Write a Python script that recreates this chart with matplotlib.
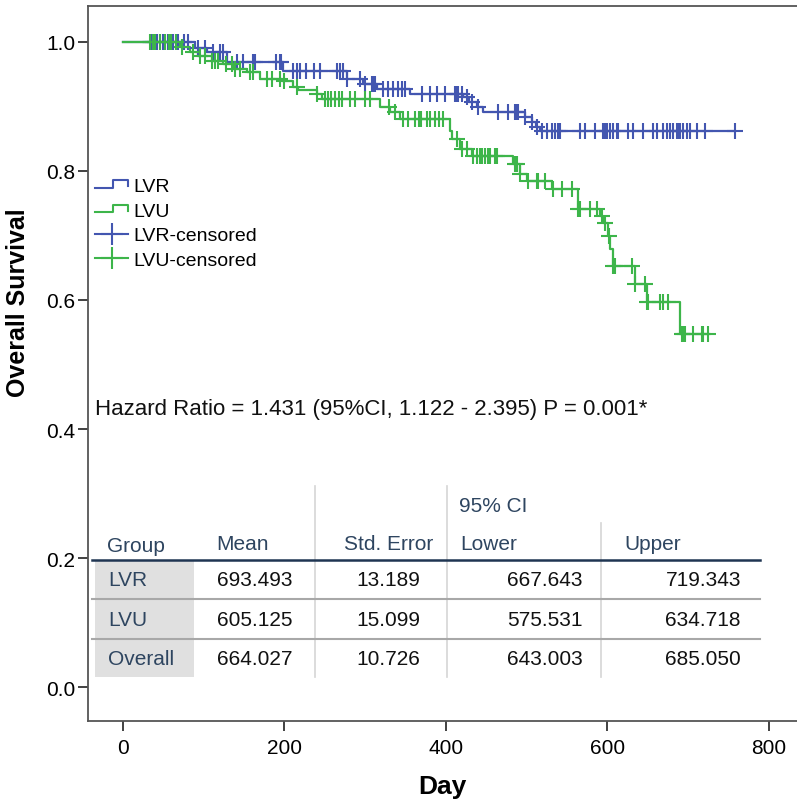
import numpy as np
import matplotlib
matplotlib.use("Agg")
import matplotlib.pyplot as plt
from matplotlib.lines import Line2D
from matplotlib.legend_handler import HandlerBase

plt.rcParams['font.family'] = ['Liberation Sans', 'DejaVu Sans']

# --- Kaplan-Meier steps (day, survival after the drop) ---
lvr_event_days = [89, 104, 129, 198, 277, 297, 314, 355, 421, 428, 439, 446, 498, 506, 512, 516]
lvr_event_surv = [0.991, 0.984, 0.969, 0.955, 0.943, 0.935, 0.927, 0.919, 0.914, 0.907, 0.899,
                  0.891, 0.884, 0.876, 0.868, 0.862]
lvr_last_day = 758
lvr_censor_days = [35, 42, 50, 56, 62, 68, 75, 81, 93, 101, 112, 120, 124, 141, 149, 161, 164,
                   190, 194, 196, 211, 215, 219, 227, 236, 244, 265, 269, 273, 277, 293, 300,
                   308, 310, 312, 322, 328, 335, 341, 345, 349, 370, 380, 389, 399, 411, 414,
                   415, 420, 426, 432, 440, 464, 477, 485, 488, 489, 498, 507, 513, 519, 525,
                   531, 535, 539, 541, 566, 572, 584, 594, 597, 599, 603, 607, 612, 613, 625,
                   632, 644, 656, 661, 669, 674, 677, 681, 686, 687, 690, 694, 698, 702, 711,
                   721, 758]

lvu_event_days = [71, 83, 93, 110, 124, 136, 153, 170, 197, 211, 217, 240, 246, 318, 331, 343,
                  405, 408, 417, 432, 483, 492, 500, 531, 563, 591, 594, 601, 603, 607, 634,
                  649, 690]
lvu_event_surv = [0.992, 0.984, 0.979, 0.971, 0.966, 0.958, 0.953, 0.943, 0.940, 0.930, 0.925,
                  0.919, 0.912, 0.899, 0.891, 0.880, 0.862, 0.850, 0.834, 0.823, 0.811, 0.795,
                  0.784, 0.772, 0.741, 0.730, 0.719, 0.699, 0.679, 0.653, 0.625, 0.597, 0.547]
lvu_last_day = 724
lvu_censor_days = [33, 37, 40, 46, 52, 57, 60, 66, 73, 87, 95, 102, 110, 114, 118, 128, 135,
                   139, 145, 157, 161, 178, 184, 194, 199, 215, 240, 250, 254, 258, 263, 267,
                   271, 281, 287, 300, 306, 329, 337, 347, 353, 362, 366, 369, 376, 380, 386,
                   391, 396, 414, 420, 426, 433, 438, 442, 445, 448, 452, 455, 461, 463, 485,
                   488, 492, 502, 513, 514, 523, 533, 544, 556, 564, 566, 578, 587, 593, 597,
                   602, 607, 609, 630, 634, 646, 649, 650, 665, 669, 675, 692, 694, 696, 706,
                   717, 718, 724]

# --- table ---
tbl_groups = ['LVR', 'LVU', 'Overall']
tbl_mean = ['693.493', '605.125', '664.027']
tbl_se = ['13.189', '15.099', '10.726']
tbl_lower = ['667.643', '575.531', '643.003']
tbl_upper = ['719.343', '634.718', '685.050']
hazard_text = 'Hazard Ratio = 1.431 (95%CI, 1.122 - 2.395) P = 0.001*'

c_lvr = '#4356B0'
c_lvu = '#3DB54A'
c_head = '#2E4560'

W, H = 797, 803
fig = plt.figure(figsize=(W / 100, H / 100), dpi=100)
ax = fig.add_axes([88 / W, 1 - 722 / H, 1 - 88 / W, (722 - 7) / H])


def step_xy(days, surv, last):
    x = np.concatenate([[0], days, [last]])
    y = np.concatenate([[1.0], surv, [surv[-1]]])
    return x, y


def surv_at(t, days, surv):
    idx = np.searchsorted(days, t, side='right') - 1
    s = np.concatenate([[1.0], surv])
    return s[idx + 1]


for days, surv, last, col in [
        (lvr_event_days, lvr_event_surv, lvr_last_day, c_lvr),
        (lvu_event_days, lvu_event_surv, lvu_last_day, c_lvu)]:
    x, y = step_xy(np.array(days), np.array(surv), last)
    ax.step(x, y, where='post', color=col, lw=1.6, zorder=3)
for days, surv, cens, col in [
        (lvr_event_days, lvr_event_surv, lvr_censor_days, c_lvr),
        (lvu_event_days, lvu_event_surv, lvu_censor_days, c_lvu)]:
    cy = surv_at(np.array(cens), np.array(days), np.array(surv))
    ax.plot(cens, cy, ls='none', marker='+', ms=11, mew=1.5, color=col, zorder=4)

ax.set_xlim(-43.3, 834.7)
ax.set_ylim(-0.0527, 1.0558)
ax.set_xticks([0, 200, 400, 600, 800])
ax.set_yticks([0.0, 0.2, 0.4, 0.6, 0.8, 1.0])
ax.set_yticklabels(['0.0', '0.2', '0.4', '0.6', '0.8', '1.0'])
ax.tick_params(length=7.2, width=1.3, color='#333333', pad=2)
ax.tick_params(axis='y', labelsize=15)
ax.tick_params(axis='x', labelsize=15, pad=5)
ax.spines['right'].set_visible(False)
for s in ['left', 'top', 'bottom']:
    ax.spines[s].set_color('#555555')
    ax.spines[s].set_linewidth(1.3)
ax.set_xlabel('Day', fontsize=19, fontweight='bold', labelpad=12)
ax.set_ylabel('Overall Survival', fontsize=18, fontweight='bold')
ax.yaxis.set_label_coords(-0.082, 0.587)


# legend with step-shaped handles
class StepHandler(HandlerBase):
    def create_artists(self, legend, orig, xd, yd, w, h, fontsize, trans):
        xs = [-xd, -xd + 0.55 * w, -xd + 0.55 * w, -xd + w, -xd + w]
        ys = [-yd + 0.25 * h, -yd + 0.25 * h, -yd + 0.8 * h, -yd + 0.8 * h, -yd + 0.35 * h]
        ln = Line2D(xs, ys, color=orig.get_color(), lw=1.5, transform=trans)
        return [ln]


h_lvr = Line2D([], [], color=c_lvr)
h_lvu = Line2D([], [], color=c_lvu)
h_lvrc = Line2D([], [], color=c_lvr, lw=1.5, marker='+', ms=16, mew=1.5)
h_lvuc = Line2D([], [], color=c_lvu, lw=1.5, marker='+', ms=16, mew=1.5)
leg = ax.legend([h_lvr, h_lvu, h_lvrc, h_lvuc], ['LVR', 'LVU', 'LVR-censored', 'LVU-censored'],
                handler_map={h_lvr: StepHandler(), h_lvu: StepHandler()},
                loc='upper left', bbox_to_anchor=(0.0099, 0.760), frameon=False,
                fontsize=14, handlelength=1.7, handletextpad=0.25, labelspacing=0.36,
                borderaxespad=0, borderpad=0)


def P(x, y):
    return (x / W, 1 - y / H)


fig.text(*P(95, 410), hazard_text, fontsize=16, va='center', ha='left', color='#111111')

# table frame
shade = plt.Rectangle(P(95, 678), 99 / W, 116 / H, transform=fig.transFigure,
                      color='#E0E0E0', lw=0, zorder=1)
fig.add_artist(shade)
for x0, y0 in [(315, 487), (447, 487), (601, 524)]:
    fig.add_artist(Line2D([x0 / W, x0 / W], [1 - y0 / H, 1 - 678 / H],
                          transform=fig.transFigure, color='#D5D5D5', lw=1.2))
fig.add_artist(Line2D([92 / W, 760 / W], [1 - 561 / H] * 2, transform=fig.transFigure,
                      color='#1F3552', lw=1.8))
for yy in [600, 640]:
    fig.add_artist(Line2D([92 / W, 760 / W], [1 - yy / H] * 2, transform=fig.transFigure,
                          color='#A8A8A8', lw=1.5))

fs = 15
fig.text(*P(459, 507), '95% CI', fontsize=fs, va='center', color=c_head)
for x0, t in [(107, 'Group'), (216, 'Mean'), (344, 'Std. Error'), (460, 'Lower'), (624, 'Upper')]:
    fig.text(*P(x0, 545 if t != 'Group' else 547), t, fontsize=fs, va='center', color=c_head)
row_y = [581, 621, 660]
for i, g in enumerate(tbl_groups):
    fig.text(*P(108, row_y[i]), g, fontsize=fs, va='center', color=c_head)
    for xr, col in [(293, tbl_mean), (420, tbl_se), (583, tbl_lower), (741, tbl_upper)]:
        fig.text(*P(xr, row_y[i]), col[i], fontsize=fs, va='center', ha='right', color='#111111')

fig.savefig('out.png', dpi=100)
